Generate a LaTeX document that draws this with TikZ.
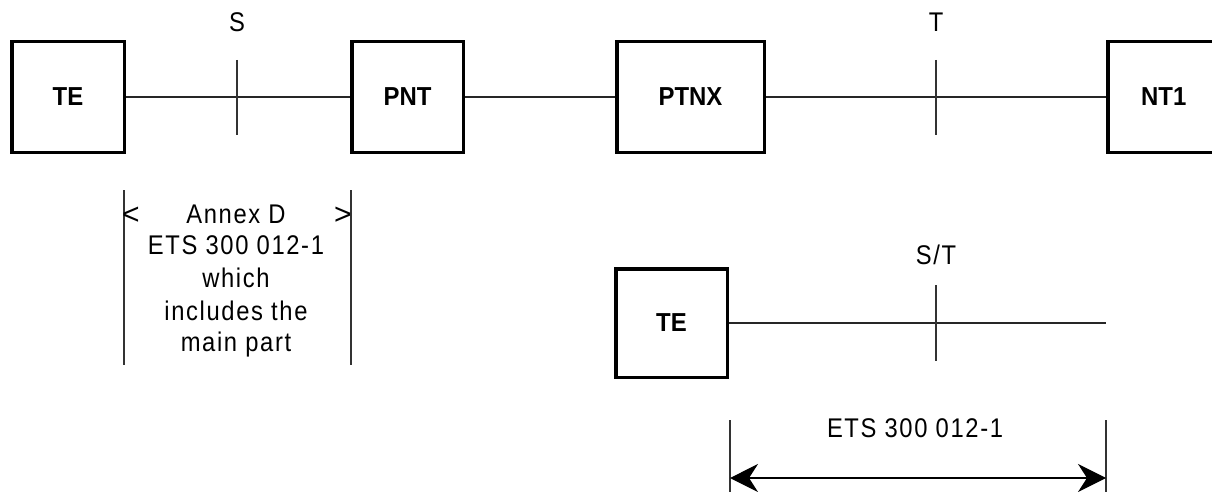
\documentclass[tikz,border=0pt]{standalone}
\usepackage{fontspec}
\setmainfont{Liberation Sans}
\newfontfamily\spacedfont[FakeStretch=0.88,LetterSpace=6]{Liberation Sans}
\newfontfamily\boxfont[FakeStretch=0.92]{Liberation Sans}
\usetikzlibrary{arrows.meta}
\begin{document}
\begin{tikzpicture}[x=1pt,y=-1pt,
  unitbox/.style={draw=black,line width=3.5pt,inner sep=0pt,font=\boxfont\fontsize{26}{30}\selectfont\bfseries},
  wire/.style={draw=black!85,line width=1.3pt},
  tick/.style={draw=black!80,line width=1.2pt},
  lbl/.style={inner sep=0pt,anchor=base,font=\spacedfont\fontsize{27}{32}\selectfont},
  dimarrow/.style={draw=black,line width=1.3pt,{Stealth[length=28pt,width=28pt,inset=9pt]}-{Stealth[length=28pt,width=28pt,inset=9pt]}}
]
\useasboundingbox (0,0) rectangle (1212,492);
\clip (0,0) rectangle (1212,492);
% boxes
\node[unitbox,minimum width=112.5pt,minimum height=110.5pt] (te1) at (68,97) {TE};
\node[unitbox,minimum width=111.5pt,minimum height=110.5pt] (pnt) at (407.5,97) {PNT};
\node[unitbox,minimum width=147.5pt,minimum height=110.5pt] (ptnx) at (690.5,97) {PTNX};
\node[unitbox,minimum width=112pt,minimum height=110.5pt] (nt1) at (1163.75,97) {NT1};
\node[unitbox,minimum width=111.5pt,minimum height=108.5pt] (te2) at (671.5,323) {TE};
% wires
\draw[wire] (te1.east) -- (pnt.west);
\draw[wire] (pnt.east) -- (ptnx.west);
\draw[wire] (ptnx.east) -- (nt1.west);
\coordinate (stend) at (1106,323);
\draw[wire] (te2.east) -- (stend);
% reference point ticks
\coordinate (sa) at (237,60); \coordinate (sb) at (237,135);
\coordinate (ta) at (936,60); \coordinate (tb) at (936,135);
\coordinate (sta) at (936,285); \coordinate (stb) at (936,361);
\draw[tick] (sa) -- (sb);
\draw[tick] (ta) -- (tb);
\draw[tick] (sta) -- (stb);
\node[lbl] (slbl) at (237,32) {S};
\node[lbl] (tlbl) at (936,32) {T};
\node[lbl] (stlbl) at (936,264) {S/T};
% Annex D region
\coordinate (al1) at (124,190); \coordinate (al2) at (124,365);
\coordinate (ar1) at (351,190); \coordinate (ar2) at (351,365);
\draw[tick] (al1) -- (al2);
\draw[tick] (ar1) -- (ar2);
\node[lbl,font=\fontsize{30}{34}\selectfont] (lt) at (131,224) {<};
\node[lbl,font=\fontsize{30}{34}\selectfont] (gt) at (343,224) {>};
\node[lbl] (an1) at (236,223) {Annex D};
\node[lbl] (an2) at (236,254) {ETS 300 012-1};
\node[lbl] (an3) at (236,287) {which};
\node[lbl] (an4) at (236,320) {includes the};
\node[lbl] (an5) at (236,351) {main part};
% ETS dimension
\coordinate (dl1) at (730,420); \coordinate (dl2) at (730,492);
\coordinate (dr1) at (1106,420); \coordinate (dr2) at (1106,492);
\draw[tick] (dl1) -- (dl2);
\draw[tick] (dr1) -- (dr2);
\coordinate (da) at (730,478); \coordinate (db) at (1106,478);
\draw[dimarrow] (da) -- (db);
\node[lbl] (etslbl) at (915,437) {ETS 300 012-1};
\end{tikzpicture}
\end{document}
